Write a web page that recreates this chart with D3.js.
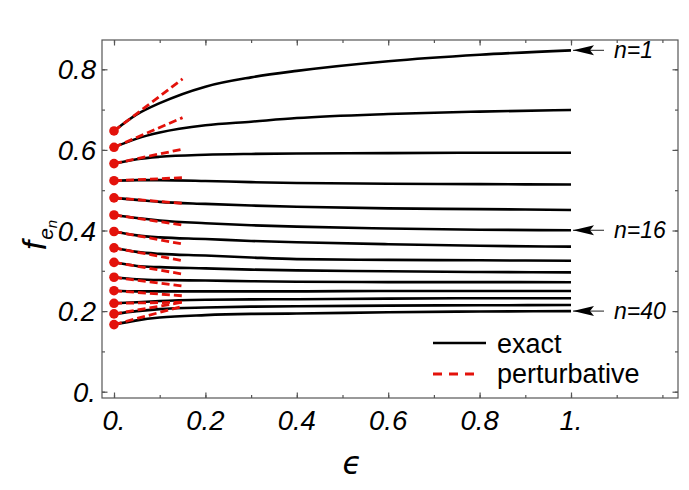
<!DOCTYPE html>
<html>
<head>
<meta charset="utf-8">
<script src="https://cdn.jsdelivr.net/npm/d3@7"></script>
<style>
  html, body { margin: 0; padding: 0; background: #fff; }
  svg { display: block; font-family: "Liberation Sans", Arial, sans-serif; }
</style>
</head>
<body>
<svg id="chart" width="689" height="490"></svg>
<script>
// ---------------- data ----------------
const epsGrid = [0, 0.05, 0.1, 0.2, 0.3, 0.4, 0.6, 0.8, 1.0];
const nLevels = [1, 4, 7, 10, 13, 16, 19, 22, 25, 28, 31, 34, 37, 40];
const exact_n1  = [0.647, 0.688, 0.716, 0.757, 0.780, 0.796, 0.820, 0.836, 0.847];
const exact_n4  = [0.6065, 0.628, 0.643, 0.661, 0.670, 0.679, 0.689, 0.695, 0.699];
const exact_n7  = [0.566, 0.577, 0.583, 0.588, 0.590, 0.591, 0.592, 0.593, 0.593];
const exact_n10 = [0.5235, 0.525, 0.525, 0.523, 0.520, 0.518, 0.516, 0.515, 0.514];
const exact_n13 = [0.481, 0.476, 0.471, 0.466, 0.462, 0.459, 0.455, 0.453, 0.451];
const exact_n16 = [0.4385, 0.431, 0.425, 0.418, 0.413, 0.4095, 0.405, 0.402, 0.4005];
const exact_n19 = [0.3975, 0.388, 0.383, 0.379, 0.374, 0.371, 0.366, 0.362, 0.360];
const exact_n22 = [0.357, 0.347, 0.342, 0.338, 0.333, 0.329, 0.327, 0.326, 0.325];
const exact_n25 = [0.321, 0.312, 0.309, 0.306, 0.303, 0.301, 0.299, 0.297, 0.296];
const exact_n28 = [0.284, 0.279, 0.277, 0.276, 0.274, 0.273, 0.272, 0.272, 0.2715];
const exact_n31 = [0.2506, 0.249, 0.249, 0.249, 0.249, 0.249, 0.250, 0.250, 0.250];
const exact_n34 = [0.2194, 0.222, 0.225, 0.228, 0.229, 0.2295, 0.231, 0.232, 0.232];
const exact_n37 = [0.193, 0.200, 0.205, 0.209, 0.211, 0.212, 0.2135, 0.2145, 0.215];
const exact_n40 = [0.1665, 0.177, 0.184, 0.190, 0.193, 0.194, 0.197, 0.199, 0.200];
const exactSeries = [exact_n1, exact_n4, exact_n7, exact_n10, exact_n13, exact_n16, exact_n19,
                     exact_n22, exact_n25, exact_n28, exact_n31, exact_n34, exact_n37, exact_n40];
// perturbative (linear) approximation: value at eps = 0 and at eps = pertEps
const pertEps = 0.15;
const pertStart = [0.647, 0.6065, 0.566, 0.5235, 0.481, 0.4385, 0.3975, 0.357, 0.321, 0.284, 0.2506, 0.2194, 0.193, 0.1665];
const pertEnd   = [0.776, 0.680, 0.602, 0.531, 0.4675, 0.4136, 0.3665, 0.325, 0.292, 0.262, 0.238, 0.222, 0.222, 0.212];
const xTickValues = [0, 0.2, 0.4, 0.6, 0.8, 1.0];
const xTickLabels = ["0.", "0.2", "0.4", "0.6", "0.8", "1."];
const yTickValues = [0, 0.2, 0.4, 0.6, 0.8];
const yTickLabels = ["0.", "0.2", "0.4", "0.6", "0.8"];
const annotN = [1, 16, 40];
const legendLabels = ["exact", "perturbative"];

// ---------------- layout ----------------
const svg = d3.select("#chart");
const frame = {left: 102, right: 678, top: 40, bottom: 398};
const x = d3.scaleLinear().domain([0, 1]).range([114, 571]);
const y = d3.scaleLinear().domain([0, 0.8]).range([391.7, 69.3]);
const RED = "#e3120b";
const FRAME = "#555";

// frame
svg.append("rect")
  .attr("x", frame.left).attr("y", frame.top)
  .attr("width", frame.right - frame.left).attr("height", frame.bottom - frame.top)
  .attr("fill", "none").attr("stroke", FRAME).attr("stroke-width", 1.2);

const xMinor = d3.range(0, 1.25, 0.1).filter(v => x(v) < frame.right - 2);
const yMinor = d3.range(0, 0.85, 0.1);

function tickGroup(axisFn, scale, values, size, transform) {
  const g = svg.append("g").attr("transform", transform)
    .call(axisFn(scale).tickValues(values).tickSize(size).tickFormat(""));
  g.select(".domain").remove();
  g.selectAll("line").attr("stroke", FRAME).attr("stroke-width", 1.2);
  return g;
}
// bottom / top
tickGroup(d3.axisBottom, x, xMinor, -3, `translate(0,${frame.bottom})`);
tickGroup(d3.axisBottom, x, xTickValues, -5.5, `translate(0,${frame.bottom})`);
tickGroup(d3.axisTop, x, xMinor, -3, `translate(0,${frame.top})`);
tickGroup(d3.axisTop, x, xTickValues, -5.5, `translate(0,${frame.top})`);
// left / right
tickGroup(d3.axisLeft, y, yMinor, -3, `translate(${frame.left},0)`);
tickGroup(d3.axisLeft, y, yTickValues, -5.5, `translate(${frame.left},0)`);
tickGroup(d3.axisRight, y, yMinor, -3, `translate(${frame.right},0)`);
tickGroup(d3.axisRight, y, yTickValues, -5.5, `translate(${frame.right},0)`);

// tick labels
svg.append("g").selectAll("text").data(xTickValues).join("text")
  .attr("x", d => x(d)).attr("y", 430)
  .attr("text-anchor", "middle")
  .attr("font-size", 27.5).attr("font-style", "italic")
  .text((d, i) => xTickLabels[i]);
svg.append("g").selectAll("text").data(yTickValues).join("text")
  .attr("x", 96).attr("y", d => y(d) + 10)
  .attr("text-anchor", "end")
  .attr("font-size", 27.5).attr("font-style", "italic")
  .text((d, i) => yTickLabels[i]);

// axis titles
svg.append("text")
  .attr("x", 352).attr("y", 474)
  .attr("text-anchor", "middle")
  .attr("font-size", 31).attr("font-style", "italic")
  .attr("font-family", "'DejaVu Sans', sans-serif")
  .text("\u03F5");
const yt = svg.append("text")
  .attr("transform", "translate(46,250) rotate(-90)")
  .attr("font-size", 33).attr("font-style", "italic");
yt.append("tspan").text("f");
yt.append("tspan").attr("font-size", 21).attr("dy", 7).attr("dx", 1).text("e");
yt.append("tspan").attr("font-size", 15).attr("dy", 4).text("n");

// exact curves
const line = d3.line()
  .x((d, i) => x(epsGrid[i]))
  .y(d => y(d))
  .curve(d3.curveMonotoneX);
svg.append("g").selectAll("path").data(exactSeries).join("path")
  .attr("d", d => line(d))
  .attr("fill", "none").attr("stroke", "#000").attr("stroke-width", 2.6);

// perturbative lines
svg.append("g").selectAll("line").data(pertStart).join("line")
  .attr("x1", x(0)).attr("y1", d => y(d))
  .attr("x2", x(pertEps)).attr("y2", (d, i) => y(pertEnd[i]))
  .attr("stroke", RED).attr("stroke-width", 2.8)
  .attr("stroke-dasharray", "8,4");
svg.append("g").selectAll("circle").data(pertStart).join("circle")
  .attr("cx", x(0)).attr("cy", d => y(d)).attr("r", 4.8)
  .attr("fill", RED);

// annotations with arrows
annotN.forEach(n => {
  const idx = nLevels.indexOf(n);
  const vals = exactSeries[idx];
  const yy = y(vals[vals.length - 1]);
  const tipX = x(1) + 2;
  svg.append("line").attr("x1", tipX).attr("x2", tipX + 31)
    .attr("y1", yy).attr("y2", yy)
    .attr("stroke", "#444").attr("stroke-width", 1.2);
  svg.append("path")
    .attr("d", `M${tipX},${yy} L${tipX + 21},${yy - 5} L${tipX + 17},${yy} L${tipX + 21},${yy + 5} Z`)
    .attr("fill", "#000");
  svg.append("text")
    .attr("x", tipX + 41).attr("y", yy + 8)
    .attr("font-size", 23).attr("font-style", "italic")
    .text("n=" + n);
});

// legend
const lg = svg.append("g");
lg.append("line").attr("x1", 433).attr("x2", 486).attr("y1", 343).attr("y2", 343)
  .attr("stroke", "#000").attr("stroke-width", 2.6);
lg.append("line").attr("x1", 433).attr("x2", 478).attr("y1", 374).attr("y2", 374)
  .attr("stroke", RED).attr("stroke-width", 2.8).attr("stroke-dasharray", "9,7");
lg.append("text").attr("x", 497).attr("y", 353).attr("font-size", 27).text(legendLabels[0]);
lg.append("text").attr("x", 497).attr("y", 383).attr("font-size", 27).text(legendLabels[1]);
</script>
</body>
</html>
